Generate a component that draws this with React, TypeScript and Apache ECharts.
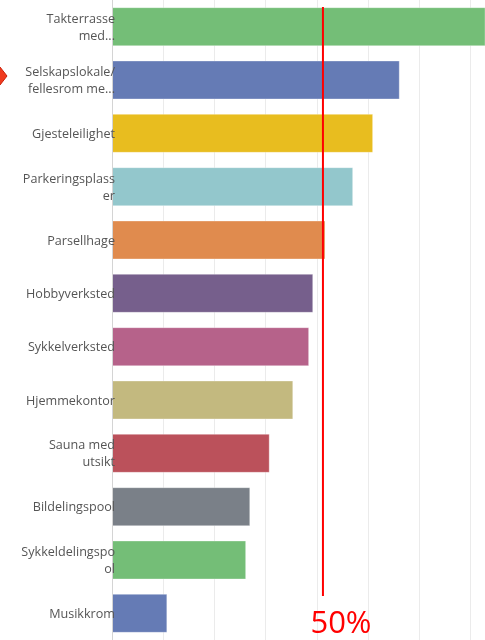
import React, { useEffect, useRef } from "react";
import * as echarts from "echarts";

const categories = [
  "Takterrasse\nmed...",
  "Selskapslokale/\nfellesrom me...",
  "Gjesteleilighet",
  "Parkeringsplass\ner",
  "Parsellhage",
  "Hobbyverksted",
  "Sykkelverksted",
  "Hjemmekontor",
  "Sauna med\nutsikt",
  "Bildelingspool",
  "Sykkeldelingspo\nol",
  "Musikkrom",
];

const values = [75, 56.2, 51.0, 47.1, 41.7, 39.3, 38.5, 35.4, 30.8, 27.0, 26.2, 10.8];

const colors = [
  "#74be77",
  "#657bb5",
  "#e8bd1f",
  "#93c7cc",
  "#e08b4e",
  "#765f8c",
  "#b6628a",
  "#c3b97f",
  "#bb515b",
  "#7a8088",
  "#74be77",
  "#657bb5",
];

// visible part of the value axis (the chart is cropped on the right)
const xMin = 0;
const xMaxVisible = 72.85;
const xInterval = 10;

const annotationLabel = "50%";
const annotationValue = 41.2;

export default function App() {
  const ref = useRef<HTMLDivElement>(null);

  useEffect(() => {
    if (!ref.current) return;
    const chart = echarts.init(ref.current, null, { renderer: "svg" });
    chart.setOption({
      animation: false,
      grid: { left: 112, top: 0, right: 0, bottom: 0, containLabel: false },
      xAxis: {
        type: "value",
        min: xMin,
        max: xMaxVisible,
        interval: xInterval,
        axisLabel: { show: false },
        axisLine: { show: false },
        axisTick: { show: false },
        splitLine: { show: true, lineStyle: { color: "#ebebeb", width: 1 } },
      },
      yAxis: {
        type: "category",
        data: categories,
        inverse: true,
        z: 10,
        axisTick: { show: false },
        axisLine: { show: true, lineStyle: { color: "#d4d4d4", width: 1 } },
        axisLabel: {
          color: "#555555",
          fontSize: 12.6,
          fontFamily: "Open Sans",
          lineHeight: 17,
          margin: -3,
          align: "right",
        },
      },
      series: [
        {
          type: "bar",
          barCategoryGap: "27%",
          clip: true,
          data: values.map((v, i) => ({
            value: v,
            itemStyle: {
              color: colors[i],
              borderColor: "rgba(255,255,255,0.3)",
              borderWidth: 1,
            },
          })),
        },
      ],
    });
    const px = chart.convertToPixel({ xAxisIndex: 0 }, annotationValue) as number;
    chart.setOption({
      graphic: [
        {
          type: "line",
          shape: { x1: px, y1: 7, x2: px, y2: 596 },
          style: { stroke: "#ff0000", lineWidth: 2 },
          z: 100,
        },
        {
          type: "text",
          x: px + 18,
          y: 636,
          style: {
            text: annotationLabel,
            fill: "#ff0000",
            font: "31px 'Open Sans'",
            textAlign: "center",
            textVerticalAlign: "bottom",
          },
          z: 100,
        },
        {
          type: "polygon",
          shape: { points: [[-9, 76], [0, 67], [7, 76], [0, 85]] },
          style: { fill: "#f03a1e", stroke: "#c8200a", lineWidth: 1 },
          z: 100,
        },
      ],
    });
    return () => chart.dispose();
  }, []);

  return (
    <div
      ref={ref}
      style={{ position: "fixed", left: 0, top: 0, width: 485, height: 640 }}
    />
  );
}
